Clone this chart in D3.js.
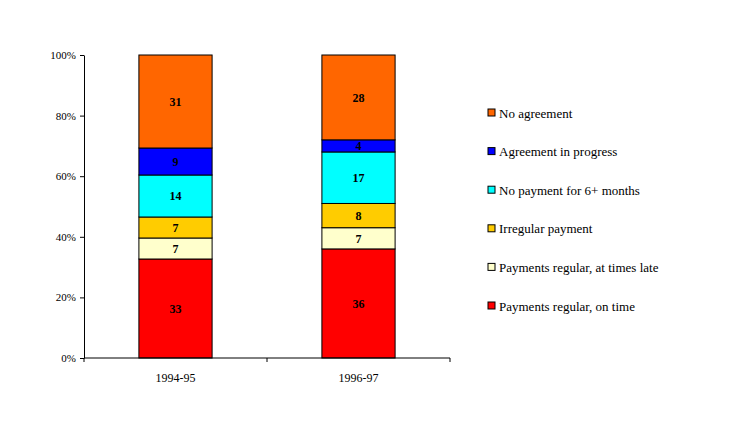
<!DOCTYPE html>
<html>
<head>
<meta charset="utf-8">
<script src="https://cdn.jsdelivr.net/npm/d3@7"></script>
<style>
  body { margin: 0; background: #fff; }
  text { font-family: "Liberation Serif", "Times New Roman", serif; }
</style>
</head>
<body>
<div id="chart"></div>
<script>
// data
var years = ["1994-95", "1996-97"];
var seriesNames = ["Payments regular, on time", "Payments regular, at times late",
  "Irregular payment", "No payment for 6+ months", "Agreement in progress", "No agreement"];
var seriesColors = ["#ff0000", "#ffffcc", "#ffcc00", "#00ffff", "#0000ff", "#ff6600"];
var values1994 = [33, 7, 7, 14, 9, 31];
var values1996 = [36, 7, 8, 17, 4, 28];
var yTicks = [0, 0.2, 0.4, 0.6, 0.8, 1];

var width = 744, height = 444;
var margin = { left: 84, top: 55, right: 294, bottom: 86 };
var plotW = width - margin.left - margin.right;
var plotH = height - margin.top - margin.bottom;

var svg = d3.select("#chart").append("svg")
  .attr("width", width).attr("height", height);
var g = svg.append("g")
  .attr("transform", "translate(" + margin.left + "," + margin.top + ")");

var x = d3.scaleBand().domain(years).range([0, plotW]).paddingInner(0.6).paddingOuter(0.3);
var y = d3.scaleLinear().domain([0, 1]).range([plotH, 0]);

// rows for stacking (normalised to 100%)
var rows = years.map(function(yr, i) {
  var vals = i === 0 ? values1994 : values1996;
  var row = { year: yr };
  seriesNames.forEach(function(s, j) { row[s] = vals[j]; });
  return row;
});
var stack = d3.stack().keys(seriesNames).offset(d3.stackOffsetExpand);
var layers = stack(rows);

var layerG = g.selectAll(".layer").data(layers).enter().append("g")
  .attr("fill", function(d, i) { return seriesColors[i]; });

layerG.selectAll("rect").data(function(d) { return d; }).enter().append("rect")
  .attr("x", function(d) { return x(d.data.year); })
  .attr("y", function(d) { return y(d[1]); })
  .attr("width", x.bandwidth())
  .attr("height", function(d) { return y(d[0]) - y(d[1]); })
  .attr("stroke", "#000").attr("stroke-width", 1);

layerG.selectAll("text").data(function(d) {
    var key = d.key;
    return d.map(function(p) { return { p: p, key: key }; });
  }).enter().append("text")
  .attr("x", function(d) { return x(d.p.data.year) + x.bandwidth() / 2; })
  .attr("y", function(d) { return (y(d.p[0]) + y(d.p[1])) / 2; })
  .attr("dy", "0.35em")
  .attr("text-anchor", "middle")
  .attr("font-size", 12).attr("font-weight", "bold").attr("fill", "#000")
  .text(function(d) { return d.p.data[d.key]; });

// y axis
var yAxis = d3.axisLeft(y).tickValues(yTicks).tickFormat(d3.format(".0%"))
  .tickSizeInner(4).tickSizeOuter(0).tickPadding(4);
var yg = g.append("g").call(yAxis);
yg.select(".domain").attr("stroke", "#000");
yg.selectAll("text").attr("font-size", 11).attr("font-family", "Liberation Serif, serif");

// x axis, ticks sit between categories
var xg = g.append("g").attr("transform", "translate(0," + plotH + ")");
xg.append("line").attr("x1", 0).attr("x2", plotW).attr("stroke", "#000");
var bounds = [0].concat(years.map(function(yr, i) { return plotW * (i + 1) / years.length; }));
xg.selectAll(".tk").data(bounds).enter().append("line")
  .attr("x1", function(d) { return d; }).attr("x2", function(d) { return d; })
  .attr("y1", 0).attr("y2", 4).attr("stroke", "#000");
xg.selectAll(".lbl").data(years).enter().append("text")
  .attr("x", function(d) { return x(d) + x.bandwidth() / 2; })
  .attr("y", 24).attr("text-anchor", "middle").attr("font-size", 12)
  .text(function(d) { return d; });

// legend
var legendNames = seriesNames.slice().reverse();
var legendColors = seriesColors.slice().reverse();
var legend = svg.append("g").attr("transform", "translate(488,109)");
var item = legend.selectAll("g").data(legendNames).enter().append("g")
  .attr("transform", function(d, i) { return "translate(0," + i * 38.6 + ")"; });
item.append("rect").attr("width", 7).attr("height", 7)
  .attr("fill", function(d, i) { return legendColors[i]; })
  .attr("stroke", "#000").attr("stroke-width", 1);
item.append("text").attr("x", 11).attr("y", 4).attr("dy", "0.35em")
  .attr("font-size", 13).text(function(d) { return d; });
</script>
</body>
</html>
